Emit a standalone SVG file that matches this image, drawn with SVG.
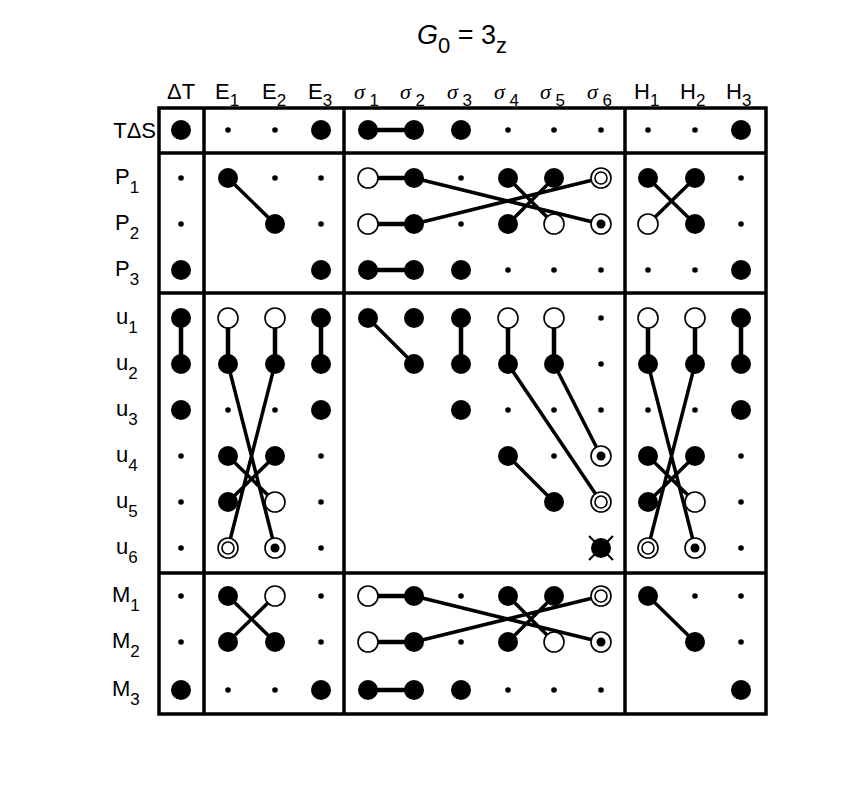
<svg xmlns="http://www.w3.org/2000/svg" width="856" height="812" viewBox="0 0 856 812">
<style>
.t{font-family:"Liberation Sans",Arial,sans-serif;font-size:22px;fill:#000}
.s{font-size:17px}
.f{fill:#000}
.o{fill:#fff;stroke:#000;stroke-width:1.6}
.l{stroke:#000;stroke-width:3.5;fill:none}
.h{stroke:#000;stroke-width:4.5;fill:none}
.v{stroke:#000;stroke-width:4.5}
.fr{fill:none;stroke:#000;stroke-width:3.5}
</style>
<defs>
<circle id="F" r="10" class="f"/>
<circle id="O" r="10" class="o"/>
<circle id="s" r="2.8" class="f"/>
<g id="OO"><circle r="10" class="o"/><circle r="6" class="o"/></g>
<g id="OD"><circle r="10" class="o"/><circle r="4.5" class="f"/></g>
<g id="X"><circle r="10" class="f"/><path d="M-12,-12L12,12M12,-12L-12,12" stroke="#000" stroke-width="2"/></g>
</defs>
<rect width="856" height="812" fill="#fff"/>
<text class="t" x="462" y="44" style="font-size:27px" text-anchor="middle"><tspan font-style="italic">G</tspan><tspan dy="9" style="font-size:22px">0</tspan><tspan dy="-9"> = 3</tspan><tspan dy="9" style="font-size:22px">z</tspan></text>
<g id="headers" class="t">
<text x="167" y="99">ΔT</text>
<text x="215" y="99">E<tspan class="s" dy="7">1</tspan></text>
<text x="262" y="99">E<tspan class="s" dy="7">2</tspan></text>
<text x="308" y="99">E<tspan class="s" dy="7">3</tspan></text>
<text x="354" y="99"><tspan font-family="Liberation Serif" font-style="italic">σ</tspan><tspan class="s" dy="7"> 1</tspan></text>
<text x="400" y="99"><tspan font-family="Liberation Serif" font-style="italic">σ</tspan><tspan class="s" dy="7"> 2</tspan></text>
<text x="447" y="99"><tspan font-family="Liberation Serif" font-style="italic">σ</tspan><tspan class="s" dy="7"> 3</tspan></text>
<text x="494" y="99"><tspan font-family="Liberation Serif" font-style="italic">σ</tspan><tspan class="s" dy="7"> 4</tspan></text>
<text x="540" y="99"><tspan font-family="Liberation Serif" font-style="italic">σ</tspan><tspan class="s" dy="7"> 5</tspan></text>
<text x="587" y="99"><tspan font-family="Liberation Serif" font-style="italic">σ</tspan><tspan class="s" dy="7"> 6</tspan></text>
<text x="634" y="99">H<tspan class="s" dy="7">1</tspan></text>
<text x="680" y="99">H<tspan class="s" dy="7">2</tspan></text>
<text x="726" y="99">H<tspan class="s" dy="7">3</tspan></text>
</g>
<g id="rowlabels" class="t">
<text x="156" y="138" text-anchor="end">TΔS</text>
<text x="115" y="184">P<tspan class="s" dy="9">1</tspan></text>
<text x="115" y="230">P<tspan class="s" dy="9">2</tspan></text>
<text x="115" y="276">P<tspan class="s" dy="9">3</tspan></text>
<text x="116" y="324">u<tspan class="s" dy="9">1</tspan></text>
<text x="116" y="370">u<tspan class="s" dy="9">2</tspan></text>
<text x="116" y="416">u<tspan class="s" dy="9">3</tspan></text>
<text x="116" y="462">u<tspan class="s" dy="9">4</tspan></text>
<text x="116" y="508">u<tspan class="s" dy="9">5</tspan></text>
<text x="116" y="554">u<tspan class="s" dy="9">6</tspan></text>
<text x="112" y="602">M<tspan class="s" dy="9">1</tspan></text>
<text x="112" y="648">M<tspan class="s" dy="9">2</tspan></text>
<text x="112" y="696">M<tspan class="s" dy="9">3</tspan></text>
</g>
<g id="frame" class="fr">
<rect x="159" y="108" width="607" height="606"/>
<path d="M204,108V714M344,108V714M625,108V714M159,153H766M159,293H766M159,573H766"/>
</g>
<g id="connectors">
<path class="h" d="M368,130H414M368,270H414M368,690H414M368,178H414M368,224H414M368,596H414M368,642H414"/>
<path class="l" d="M228,178L275,224M414,178L601,224M414,224L601,178M508,178L554,224M554,178L508,224M648,178L695,224M695,178L648,224"/>
<path class="v" d="M181,318V364M228,318V364M275,318V364M321,318V364M461,318V364M508,318V364M554,318V364M648,318V364M695,318V364M741,318V364"/>
<path class="l" d="M228,364L275,548M275,364L228,548M228,456L275,502M275,456L228,502M368,318L414,364M508,364L601,502M554,364L601,456M508,456L554,502M648,364L695,548M695,364L648,548M648,456L695,502M695,456L648,502"/>
<path class="l" d="M228,596L275,642M275,596L228,642M414,596L601,642M414,642L601,596M508,596L554,642M554,596L508,642M648,596L695,642"/>
</g>
<g id="nodes">
<g id="r-TdS"><use href="#F" x="181" y="130"/><use href="#s" x="228" y="130"/><use href="#s" x="275" y="130"/><use href="#F" x="321" y="130"/><use href="#F" x="368" y="130"/><use href="#F" x="414" y="130"/><use href="#F" x="461" y="130"/><use href="#s" x="508" y="130"/><use href="#s" x="554" y="130"/><use href="#s" x="601" y="130"/><use href="#s" x="648" y="130"/><use href="#s" x="695" y="130"/><use href="#F" x="741" y="130"/></g>
<g id="r-P1"><use href="#s" x="181" y="178"/><use href="#F" x="228" y="178"/><use href="#s" x="275" y="178"/><use href="#s" x="321" y="178"/><use href="#O" x="368" y="178"/><use href="#F" x="414" y="178"/><use href="#s" x="461" y="178"/><use href="#F" x="508" y="178"/><use href="#F" x="554" y="178"/><use href="#OO" x="601" y="178"/><use href="#F" x="648" y="178"/><use href="#F" x="695" y="178"/><use href="#s" x="741" y="178"/></g>
<g id="r-P2"><use href="#s" x="181" y="224"/><use href="#F" x="275" y="224"/><use href="#s" x="321" y="224"/><use href="#O" x="368" y="224"/><use href="#F" x="414" y="224"/><use href="#s" x="461" y="224"/><use href="#F" x="508" y="224"/><use href="#O" x="554" y="224"/><use href="#OD" x="601" y="224"/><use href="#O" x="648" y="224"/><use href="#F" x="695" y="224"/><use href="#s" x="741" y="224"/></g>
<g id="r-P3"><use href="#F" x="181" y="270"/><use href="#F" x="321" y="270"/><use href="#F" x="368" y="270"/><use href="#F" x="414" y="270"/><use href="#F" x="461" y="270"/><use href="#s" x="508" y="270"/><use href="#s" x="554" y="270"/><use href="#s" x="601" y="270"/><use href="#s" x="648" y="270"/><use href="#s" x="695" y="270"/><use href="#F" x="741" y="270"/></g>
<g id="r-u1"><use href="#F" x="181" y="318"/><use href="#O" x="228" y="318"/><use href="#O" x="275" y="318"/><use href="#F" x="321" y="318"/><use href="#F" x="368" y="318"/><use href="#F" x="414" y="318"/><use href="#F" x="461" y="318"/><use href="#O" x="508" y="318"/><use href="#O" x="554" y="318"/><use href="#s" x="601" y="318"/><use href="#O" x="648" y="318"/><use href="#O" x="695" y="318"/><use href="#F" x="741" y="318"/></g>
<g id="r-u2"><use href="#F" x="181" y="364"/><use href="#F" x="228" y="364"/><use href="#F" x="275" y="364"/><use href="#F" x="321" y="364"/><use href="#F" x="414" y="364"/><use href="#F" x="461" y="364"/><use href="#F" x="508" y="364"/><use href="#F" x="554" y="364"/><use href="#s" x="601" y="364"/><use href="#F" x="648" y="364"/><use href="#F" x="695" y="364"/><use href="#F" x="741" y="364"/></g>
<g id="r-u3"><use href="#F" x="181" y="410"/><use href="#s" x="228" y="410"/><use href="#s" x="275" y="410"/><use href="#F" x="321" y="410"/><use href="#F" x="461" y="410"/><use href="#s" x="508" y="410"/><use href="#s" x="554" y="410"/><use href="#s" x="601" y="410"/><use href="#s" x="648" y="410"/><use href="#s" x="695" y="410"/><use href="#F" x="741" y="410"/></g>
<g id="r-u4"><use href="#s" x="181" y="456"/><use href="#F" x="228" y="456"/><use href="#F" x="275" y="456"/><use href="#s" x="321" y="456"/><use href="#F" x="508" y="456"/><use href="#s" x="554" y="456"/><use href="#OD" x="601" y="456"/><use href="#F" x="648" y="456"/><use href="#F" x="695" y="456"/><use href="#s" x="741" y="456"/></g>
<g id="r-u5"><use href="#s" x="181" y="502"/><use href="#F" x="228" y="502"/><use href="#O" x="275" y="502"/><use href="#s" x="321" y="502"/><use href="#F" x="554" y="502"/><use href="#OO" x="601" y="502"/><use href="#F" x="648" y="502"/><use href="#O" x="695" y="502"/><use href="#s" x="741" y="502"/></g>
<g id="r-u6"><use href="#s" x="181" y="548"/><use href="#OO" x="228" y="548"/><use href="#OD" x="275" y="548"/><use href="#s" x="321" y="548"/><use href="#X" x="601" y="548"/><use href="#OO" x="648" y="548"/><use href="#OD" x="695" y="548"/><use href="#s" x="741" y="548"/></g>
<g id="r-M1"><use href="#s" x="181" y="596"/><use href="#F" x="228" y="596"/><use href="#O" x="275" y="596"/><use href="#s" x="321" y="596"/><use href="#O" x="368" y="596"/><use href="#F" x="414" y="596"/><use href="#s" x="461" y="596"/><use href="#F" x="508" y="596"/><use href="#F" x="554" y="596"/><use href="#OO" x="601" y="596"/><use href="#F" x="648" y="596"/><use href="#s" x="695" y="596"/><use href="#s" x="741" y="596"/></g>
<g id="r-M2"><use href="#s" x="181" y="642"/><use href="#F" x="228" y="642"/><use href="#F" x="275" y="642"/><use href="#s" x="321" y="642"/><use href="#O" x="368" y="642"/><use href="#F" x="414" y="642"/><use href="#s" x="461" y="642"/><use href="#F" x="508" y="642"/><use href="#O" x="554" y="642"/><use href="#OD" x="601" y="642"/><use href="#F" x="695" y="642"/><use href="#s" x="741" y="642"/></g>
<g id="r-M3"><use href="#F" x="181" y="690"/><use href="#s" x="228" y="690"/><use href="#s" x="275" y="690"/><use href="#F" x="321" y="690"/><use href="#F" x="368" y="690"/><use href="#F" x="414" y="690"/><use href="#F" x="461" y="690"/><use href="#s" x="508" y="690"/><use href="#s" x="554" y="690"/><use href="#s" x="601" y="690"/><use href="#F" x="741" y="690"/></g>
</g>
</svg>
